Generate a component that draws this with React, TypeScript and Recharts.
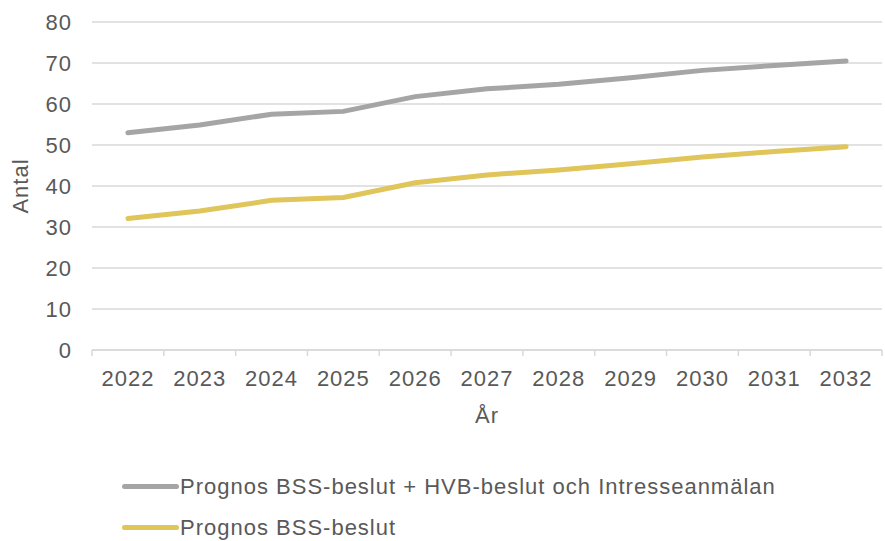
import { CartesianGrid, Legend, Line, LineChart, XAxis, YAxis } from "recharts"

const years = ["2022", "2023", "2024", "2025", "2026", "2027", "2028", "2029", "2030", "2031", "2032"]
const totalForecast = [53.0, 54.9, 57.5, 58.2, 61.8, 63.7, 64.8, 66.4, 68.2, 69.4, 70.5]
const bssForecast = [32.1, 33.9, 36.5, 37.2, 40.8, 42.7, 43.9, 45.4, 47.1, 48.4, 49.6]
const yTicks = [0, 10, 20, 30, 40, 50, 60, 70, 80]

const seriesNames = {
  total: "Prognos BSS-beslut + HVB-beslut och Intresseanmälan",
  bss: "Prognos BSS-beslut",
}

const data = years.map((year, i) => ({
  year,
  total: totalForecast[i],
  bss: bssForecast[i],
}))

const textColor = "#595959"
const axisColor = "#d9d9d9"
const font = { fontFamily: "'Liberation Sans', Arial, sans-serif", fontSize: 22, letterSpacing: 1 }
const labelGap = 20

// category label sits in the middle of its band, tick marks go on band edges
function YearTick(props: any) {
  const { x, y, payload, index, visibleTicksCount } = props
  const half = payload?.offset || 35.9
  const top = y - labelGap
  return (
    <g>
      <line x1={x - half} x2={x - half} y1={top} y2={top + 6} stroke={axisColor} strokeWidth={1.5} />
      {index === visibleTicksCount - 1 && (
        <line x1={x + half} x2={x + half} y1={top} y2={top + 6} stroke={axisColor} strokeWidth={1.5} />
      )}
      <text x={x} y={y} dy="0.71em" textAnchor="middle" fill={textColor} style={font}>
        {payload.value}
      </text>
    </g>
  )
}

function LegendBox() {
  const rows = [
    { name: seriesNames.total, color: "#a5a5a5" },
    { name: seriesNames.bss, color: "#dfc55a" },
  ]
  return (
    <div style={{ height: 111, position: "relative", ...font, color: textColor }}>
      {rows.map((r, i) => (
        <div
          key={r.name}
          style={{
            position: "absolute",
            left: 122,
            top: 36 + i * 41,
            height: 41,
            display: "flex",
            alignItems: "center",
            whiteSpace: "nowrap",
          }}
        >
          <span style={{ display: "inline-block", width: 57, height: 5, borderRadius: 3, background: r.color, marginRight: 1 }} />
          {r.name}
        </div>
      ))}
    </div>
  )
}

export default function App() {
  return (
    <div style={{ position: "absolute", left: 0, top: 0, background: "#fff" }}>
      <LineChart width={885} height={541} data={data} margin={{ top: 22, right: 3, bottom: 0, left: 0 }}>
        <CartesianGrid vertical={false} stroke={axisColor} strokeWidth={1.5} />
        <XAxis
          dataKey="year"
          scale="band"
          height={80}
          stroke={axisColor}
          strokeWidth={1.5}
          tickLine={false}
          tickSize={0}
          tickMargin={labelGap}
          interval={0}
          tick={<YearTick />}
          label={{ value: "År", position: "insideBottom", offset: 7, fill: textColor, ...font }}
        />
        <YAxis
          width={92}
          domain={[0, 80]}
          ticks={yTicks}
          axisLine={false}
          tickLine={false}
          tickMargin={14}
          tick={{ fill: textColor, ...font }}
          label={{ value: "Antal", angle: -90, position: "insideLeft", offset: 20, fill: textColor, textAnchor: "middle", ...font }}
        />
        <Legend verticalAlign="bottom" content={() => <LegendBox />} />
        <Line
          dataKey="total"
          name={seriesNames.total}
          stroke="#a5a5a5"
          strokeWidth={5}
          strokeLinecap="round"
          dot={false}
          isAnimationActive={false}
        />
        <Line
          dataKey="bss"
          name={seriesNames.bss}
          stroke="#dfc55a"
          strokeWidth={5}
          strokeLinecap="round"
          dot={false}
          isAnimationActive={false}
        />
      </LineChart>
    </div>
  )
}
